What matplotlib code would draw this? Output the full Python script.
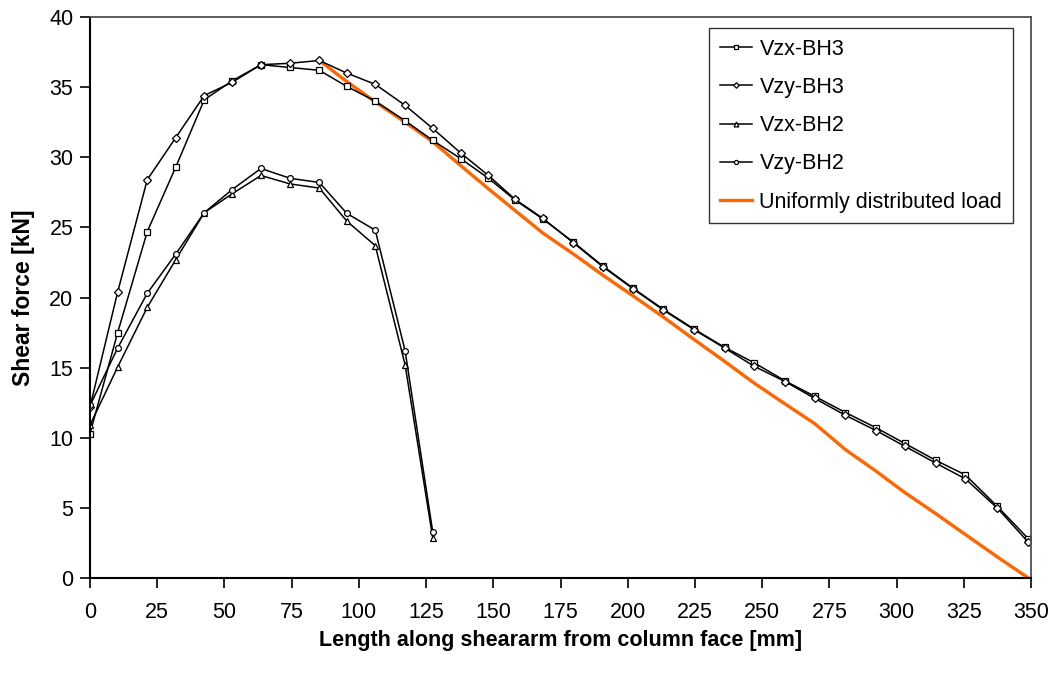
import matplotlib
matplotlib.use("Agg")
import matplotlib.pyplot as plt

# x positions [mm]
x_bh3 = [0, 10.3, 21.3, 31.9, 42.5, 52.9, 63.6, 74.4, 85.3, 95.5, 106.1, 117.2, 127.5,
         137.9, 148.2, 158.1, 168.4, 179.8, 190.7, 202.1, 213.3, 224.7, 236.0, 247.0,
         258.6, 269.6, 281.0, 292.5, 303.0, 314.5, 325.6, 337.5, 349.0]
x_bh2 = x_bh3[:13]

vzx_bh3 = [10.3, 17.5, 24.7, 29.3, 34.1, 35.45, 36.6, 36.4, 36.2, 35.05, 34.0, 32.6, 31.2,
           29.9, 28.5, 26.95, 25.6, 23.95, 22.25, 20.65, 19.15, 17.75, 16.45, 15.35,
           14.05, 12.95, 11.8, 10.7, 9.6, 8.4, 7.35, 5.1, 2.8]
vzy_bh3 = [12.2, 20.4, 28.4, 31.4, 34.4, 35.35, 36.6, 36.7, 36.9, 36.0, 35.2, 33.7, 32.05,
           30.3, 28.7, 27.0, 25.65, 23.9, 22.2, 20.6, 19.1, 17.7, 16.4, 15.1,
           14.0, 12.8, 11.6, 10.5, 9.4, 8.2, 7.07, 4.98, 2.55]
vzx_bh2 = [10.9, 15.05, 19.3, 22.7, 26.05, 27.4, 28.7, 28.1, 27.8, 25.45, 23.7, 15.2, 2.84]
vzy_bh2 = [12.3, 16.4, 20.3, 23.1, 26.05, 27.7, 29.2, 28.5, 28.2, 26.0, 24.8, 16.2, 3.26]

x_udl = x_bh3[8:]
udl = [36.9, 35.4, 33.95, 32.5, 31.1, 29.4, 27.75, 26.2, 24.6, 23.1, 21.6, 20.1, 18.6,
       17.0, 15.45, 13.9, 12.4, 11.0, 9.15, 7.6, 6.1, 4.6, 3.1, 1.5, 0.0]

labels = ["Vzx-BH3", "Vzy-BH3", "Vzx-BH2", "Vzy-BH2", "Uniformly distributed load"]

plt.rcParams['font.family'] = ['Liberation Sans', 'DejaVu Sans']

fig = plt.figure(figsize=(10.54, 6.76), dpi=100)
ax = fig.add_axes([90/1054, 98/676, (1031-90)/1054, (578-17)/676])

lw = 1.1
common = dict(color='black', lw=lw, markerfacecolor='white', markeredgecolor='black',
              markeredgewidth=0.9)
ax.plot(x_bh3, vzx_bh3, marker='s', ms=4.2, label=labels[0], **common)
ax.plot(x_bh3, vzy_bh3, marker='D', ms=4.0, label=labels[1], **common)
ax.plot(x_bh2, vzx_bh2, marker='^', ms=5.0, label=labels[2], **common)
ax.plot(x_bh2, vzy_bh2, marker='o', ms=4.2, label=labels[3], **common)
ax.plot(x_udl, udl, color='#FF6600', lw=2.4, label=labels[4], zorder=1.5)

ax.set_xlim(0, 350)
ax.set_ylim(0, 40)
ax.set_xticks(range(0, 351, 25))
ax.set_yticks(range(0, 41, 5))
ax.tick_params(axis='both', direction='out', length=7, width=1.2, labelsize=15.5,
               colors='black', pad=5)
ax.tick_params(axis='x', pad=10)
for side in ['left', 'bottom']:
    ax.spines[side].set_linewidth(1.5)
    ax.spines[side].set_color('black')
for side in ['top', 'right']:
    ax.spines[side].set_linewidth(1.3)
    ax.spines[side].set_color('#505050')

ax.set_xlabel("Length along sheararm from column face [mm]", fontsize=15.5,
              fontweight='bold', labelpad=5)
ax.set_ylabel("Shear force [kN]", fontsize=16.5, fontweight='bold', labelpad=10)

leg = ax.legend(loc='upper right', bbox_to_anchor=(1013/1054, (676-28)/676),
                bbox_transform=fig.transFigure, fontsize=15.5, frameon=True,
                fancybox=False, edgecolor='black', handlelength=1.5, handletextpad=0.33,
                labelspacing=0.8, borderpad=0.5, markerscale=0.7, borderaxespad=0)
leg.get_frame().set_linewidth(1.0)

fig.savefig("out.png", dpi=100)
